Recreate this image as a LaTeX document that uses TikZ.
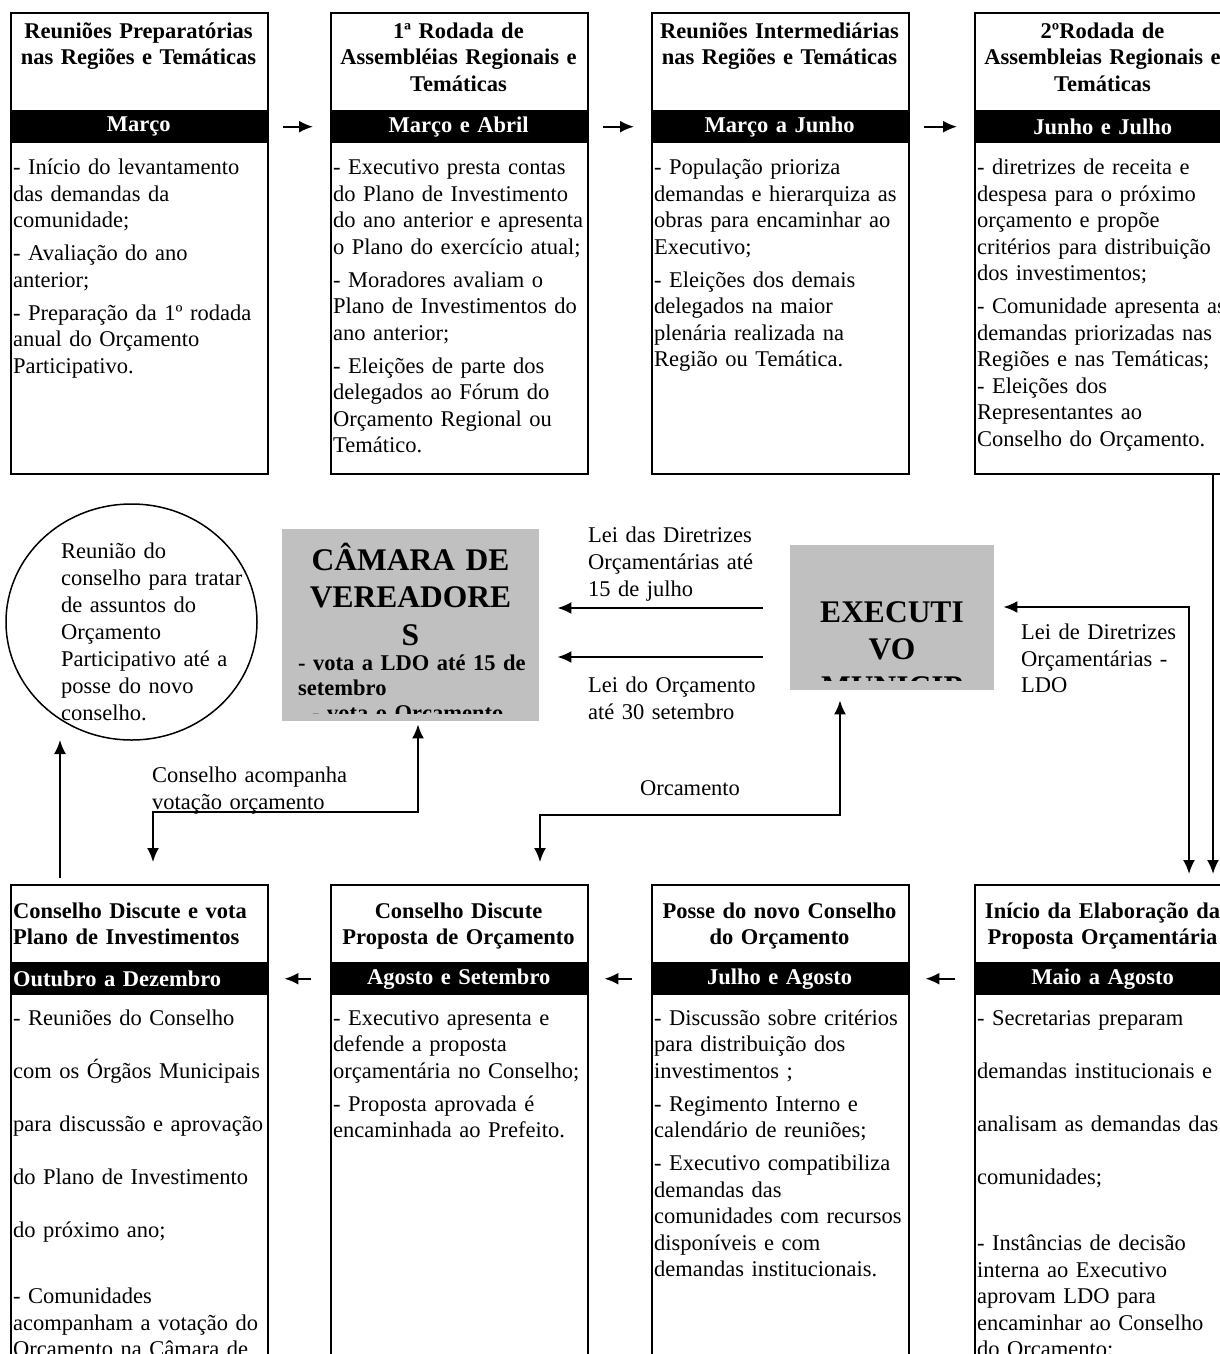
\documentclass[tikz,border=0pt]{standalone}
\usepackage{fontspec}
\setmainfont{Liberation Serif}
\usepackage{tikz}
\usetikzlibrary{arrows.meta}
\usetikzlibrary{shapes.geometric}
\definecolor{cinza}{HTML}{C0C0C0}

\begin{document}
\begin{tikzpicture}[x=1pt,y=-1pt,>={Latex[length=14pt,width=12pt]},
    etapa/.style={draw, line width=1.8pt, minimum width=257pt, anchor=north west, inner sep=0pt},
    faixa/.style={fill=black, text=white, font=\fontsize{22.5}{26.5}\selectfont\bfseries, minimum height=33pt, text width=251pt, align=center, inner xsep=3pt, inner ysep=0pt, anchor=north west},
    titulo/.style={font=\fontsize{22.5}{26.5}\selectfont\bfseries, text width=251pt, align=center, inner sep=0pt, anchor=base},
    corpo/.style={font=\fontsize{22.5}{26.5}\selectfont, text width=270pt, align=left, inner sep=0pt, anchor=base west},
    rotulo/.style={font=\fontsize{22.5}{27}\selectfont, text width=230pt, align=left, inner sep=0pt, anchor=base west},
    bloco/.style={fill=cinza, anchor=north west, inner sep=0pt},
    grande/.style={font=\fontsize{31.5}{37.5}\selectfont\bfseries, text width=250pt, align=center, inner sep=0pt, anchor=base},
    seta/.style={->, line width=2pt}]
    \useasboundingbox (0,0) rectangle (1220,1354);
    \clip (0,0) rectangle (1220,1354);

    % primeira linha
    \node (prep) [etapa, minimum height=461pt] at (10,12) {};
    \node (rod1) [etapa, minimum height=461pt] at (330,12) {};
    \node (inter) [etapa, minimum height=461pt] at (651,12) {};
    \node (rod2) [etapa, minimum height=461pt] at (974,12) {};
    \node (m1) [faixa] at (10,110) {Março};
    \node (m2) [faixa] at (330,110) {Março e Abril};
    \node (m3) [faixa] at (651,110) {Março a Junho};
    \node (m4) [faixa] at (974,110) {Junho e Julho};
    \node (t1) [titulo] at (138.5,38) {Reuniões Preparatórias\\nas Regiões e Temáticas};
    \node (t2) [titulo] at (458.5,38) {1ª Rodada de\\Assembléias Regionais e\\Temáticas};
    \node (t3) [titulo] at (779.5,38) {Reuniões Intermediárias\\nas Regiões e Temáticas};
    \node (t4) [titulo] at (1102.5,38) {2ºRodada de\\Assembleias Regionais e\\Temáticas};
    \node (c1) [corpo] at (13,174.5) {- Início do levantamento\\das demandas da\\comunidade;\\[6.5pt]- Avaliação do ano\\anterior;\\[6.5pt]- Preparação da 1º rodada\\anual do Orçamento\\Participativo.};
    \node (c2) [corpo] at (333,174.5) {- Executivo presta contas\\do Plano de Investimento\\do ano anterior e apresenta\\o Plano do exercício atual;\\[6.5pt]- Moradores avaliam o\\Plano de Investimentos do\\ano anterior;\\[6.5pt]- Eleições de parte dos\\delegados ao Fórum do\\Orçamento Regional ou\\Temático.};
    \node (c3) [corpo] at (654,174.5) {- População prioriza\\demandas e hierarquiza as\\obras para encaminhar ao\\Executivo;\\[6.5pt]- Eleições dos demais\\delegados na maior\\plenária realizada na\\Região ou Temática.};
    \node (c4) [corpo] at (977,174.5) {- diretrizes de receita e\\despesa para o próximo\\orçamento e propõe\\critérios para distribuição\\dos investimentos;\\[6.5pt]- Comunidade apresenta as\\demandas priorizadas nas\\Regiões e nas Temáticas;\\- Eleições dos\\Representantes ao\\Conselho do Orçamento.};

    % segunda linha
    \node (plano) [etapa, minimum height=600pt] at (10,884) {};
    \node (prop) [etapa, minimum height=600pt] at (330,884) {};
    \node (posse) [etapa, minimum height=600pt] at (651,884) {};
    \node (elab) [etapa, minimum height=600pt] at (974,884) {};
    \node (m5) [faixa, align=left] at (10,962) {Outubro a Dezembro};
    \node (m6) [faixa] at (330,962) {Agosto e Setembro};
    \node (m7) [faixa] at (651,962) {Julho e Agosto};
    \node (m8) [faixa] at (974,962) {Maio a Agosto};
    \node (t5) [titulo, align=left, anchor=base west] at (13,918) {Conselho Discute e vota\\Plano de Investimentos};
    \node (t6) [titulo] at (458.5,918) {Conselho Discute\\Proposta de Orçamento};
    \node (t7) [titulo] at (779.5,918) {Posse do novo Conselho\\do Orçamento};
    \node (t8) [titulo] at (1102.5,918) {Início da Elaboração da\\Proposta Orçamentária};
    \node (c5) [corpo] at (13,1025) {- Reuniões do Conselho\\[26.5pt]com os Órgãos Municipais\\[26.5pt]para discussão e aprovação\\[26.5pt]do Plano de Investimento\\[26.5pt]do próximo ano;\\[40pt]- Comunidades\\acompanham a votação do\\Orçamento na Câmara de};
    \node (c6) [corpo] at (333,1025) {- Executivo apresenta e\\defende a proposta\\orçamentária no Conselho;\\[6.5pt]- Proposta aprovada é\\encaminhada ao Prefeito.};
    \node (c7) [corpo] at (654,1025) {- Discussão sobre critérios\\para distribuição dos\\investimentos ;\\[6.5pt]- Regimento Interno e\\calendário de reuniões;\\[6.5pt]- Executivo compatibiliza\\demandas das\\comunidades com recursos\\disponíveis e com\\demandas institucionais.};
    \node (c8) [corpo] at (977,1025) {- Secretarias preparam\\[26.5pt]demandas institucionais e\\[26.5pt]analisam as demandas das\\[26.5pt]comunidades;\\[40pt]- Instâncias de decisão\\interna ao Executivo\\aprovam LDO para\\encaminhar ao Conselho\\do Orçamento;};

    % meio
    \node (reuniao) [ellipse, draw, line width=1.5pt, minimum width=251pt, minimum height=236pt, inner sep=0pt] at (131.5,622) {};
    \node (reutxt) [rotulo] at (61,558.5) {Reunião do\\conselho para tratar\\de assuntos do\\Orçamento\\Participativo até a\\posse do novo\\conselho.};
    \node (camara) [bloco, minimum width=257pt, minimum height=192pt] at (282,529) {};
    \begin{scope}
        \clip (camara.north west) rectangle ([yshift=8pt]camara.south east);
        \node (camtit) [grande] at (410.5,570) {CÂMARA DE\\VEREADORE\\S};
        \node (camtxt) [corpo, font=\fontsize{22.5}{25}\selectfont\bfseries] at (298,670) {- vota a LDO até 15 de\\setembro\\\hspace*{14pt}- vota o Orçamento};
    \end{scope}
    \node (exec) [bloco, minimum width=204pt, minimum height=145pt] at (790,545) {};
    \begin{scope}
        \clip (exec.north west) rectangle ([yshift=10pt]exec.south east);
        \node (exectit) [grande] at (892,622) {EXECUTI\\VO\\MUNICIP};
    \end{scope}
    \node (ldo1) [rotulo] at (588,542.5) {Lei das Diretrizes\\Orçamentárias até\\15 de julho};
    \node (loa) [rotulo] at (588,692.5) {Lei do Orçamento\\até 30 setembro};
    \node (ldo2) [rotulo, font=\fontsize{22.5}{26.5}\selectfont] at (1021,639.5) {Lei de Diretrizes\\Orçamentárias -\\LDO};
    \node (acomp) [rotulo] at (152,782.5) {Conselho acompanha\\votação orçamento};
    \node (orc) [rotulo, anchor=base, align=center] at (690,795) {Orcamento};

    \coordinate (nivA) at (0,608);
    \coordinate (nivB) at (0,657);
    \coordinate (dobra) at (1189,607);
    \coordinate (desce) at (1213,0);
    \coordinate (o1) at (540,815);
    \coordinate (o2) at (840,815);
    \coordinate (v1) at (153,812);
    \coordinate (v2) at (418,812);
    \coordinate (sobe) at (60,740);

    \draw[seta, shorten <=16pt, shorten >=17pt] (m1.east) -- (m2.west);
    \draw[seta, shorten <=16pt, shorten >=17pt] (m2.east) -- (m3.west);
    \draw[seta, shorten <=16pt, shorten >=17pt] (m3.east) -- (m4.west);
    \draw[seta, shorten <=19pt, shorten >=17pt] (m8.west) -- (m7.east);
    \draw[seta, shorten <=19pt, shorten >=17pt] (m7.west) -- (m6.east);
    \draw[seta, shorten <=19pt, shorten >=17pt] (m6.west) -- (m5.east);
    \draw[seta, shorten <=27pt, shorten >=18pt] (exec.west |- nivA) -- (camara.east |- nivA);
    \draw[seta, shorten <=27pt, shorten >=18pt] (exec.west |- nivB) -- (camara.east |- nivB);
    \draw[seta, <->, shorten <=9pt, shorten >=10pt] (exec.east |- dobra) -- (dobra) -- (elab.north -| dobra);
    \draw[seta, shorten >=10pt] (rod2.south -| desce) -- (elab.north -| desce);
    \draw[seta, <->, shorten <=22pt, shorten >=10pt] (prop.north -| o1) -- (o1) -- (o2) -- (exec.south -| o2);
    \draw[seta, <->, shorten <=22pt, shorten >=3pt] (plano.north -| v1) -- (v1) -- (v2) -- (camara.south -| v2);
    \draw[seta, shorten <=6pt] (plano.north -| sobe) -- (sobe);
\end{tikzpicture}
\end{document}
